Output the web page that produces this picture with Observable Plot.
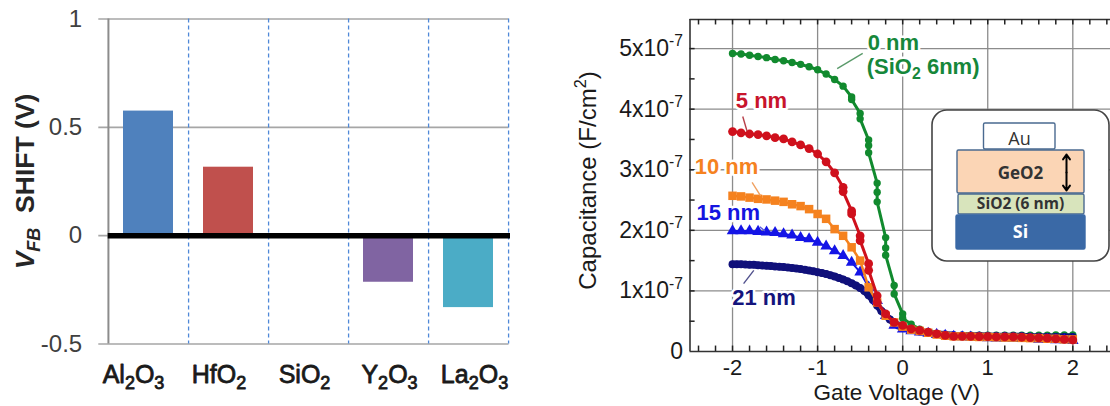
<!DOCTYPE html>
<html>
<head>
<meta charset="utf-8">
<script src="https://cdn.jsdelivr.net/npm/d3@7"></script>
<script src="https://cdn.jsdelivr.net/npm/@observablehq/plot@0.6"></script>
<style>
html,body{margin:0;padding:0;background:#fff;overflow:hidden}
#wrap{position:relative;width:1110px;height:406px;overflow:hidden}
#wrap svg{position:absolute;background:transparent;overflow:visible}
</style>
</head>
<body>
<div id="wrap"></div>
<script>
// ---- left chart data
const oxides = ["Al_{2}O_{3}", "HfO_{2}", "SiO_{2}", "Y_{2}O_{3}", "La_{2}O_{3}"];
const vfbShift = [0.575, 0.316, 0, -0.215, -0.332];
const barColors = ["#4f81bd", "#c0504d", "#ffffff", "#8064a2", "#4bacc6"];
const oxideLabelShift = [-15, -9.5, -4, 1, 6];
const leftTicks = [-0.5, 0, 0.5, 1];

// ---- right chart data (capacitance in units of 1e-7 F/cm2)
const volts = [-2,-1.9,-1.8,-1.7,-1.6,-1.5,-1.4,-1.3,-1.2,-1.1,-1,-0.9,-0.8,-0.7,-0.6,-0.5,-0.4,-0.3,-0.2,-0.1,0,0.1,0.2,0.3,0.4,0.5,0.6,0.7,0.8,0.9,1,1.1,1.2,1.3,1.4,1.5,1.6,1.7,1.8,1.9,2];
const greenV = [-2,-1.9,-1.8,-1.7,-1.6,-1.5,-1.4,-1.3,-1.2,-1.1,-1,-0.9,-0.8,-0.7,-0.6,-0.6,-0.5,-0.5,-0.4,-0.4,-0.4,-0.3,-0.3,-0.3,-0.2,-0.2,-0.2,-0.1,-0.1,0,0,0.1,0.2,0.3,0.4,0.5,0.6,0.7,0.8,0.9,1,1.1,1.2,1.3,1.4,1.5,1.6,1.7,1.8,1.9,2];
const greenC = [4.92,4.91,4.89,4.87,4.85,4.82,4.80,4.77,4.74,4.70,4.65,4.58,4.49,4.38,4.20,4.16,3.93,3.84,3.49,3.40,3.28,2.78,2.63,2.47,1.88,1.71,1.59,1.09,0.95,0.62,0.55,0.45,0.37,0.32,0.29,0.28,0.27,0.27,0.27,0.27,0.27,0.27,0.27,0.27,0.27,0.27,0.27,0.27,0.275,0.275,0.275];
const redV = [-2,-1.9,-1.8,-1.7,-1.6,-1.5,-1.4,-1.3,-1.2,-1.1,-1,-0.9,-0.8,-0.7,-0.7,-0.6,-0.6,-0.5,-0.5,-0.4,-0.4,-0.3,-0.3,-0.2,-0.1,0,0.1,0.2,0.3,0.4,0.5,0.6,0.7,0.8,0.9,1,1.1,1.2,1.3,1.4,1.5,1.6,1.7,1.8,1.9,2];
const redC = [3.63,3.61,3.59,3.58,3.56,3.53,3.51,3.46,3.41,3.35,3.26,3.13,2.95,2.71,2.64,2.32,2.27,1.91,1.83,1.45,1.34,0.92,0.81,0.62,0.48,0.43,0.375,0.35,0.32,0.29,0.265,0.25,0.25,0.25,0.245,0.245,0.24,0.24,0.24,0.235,0.23,0.225,0.22,0.21,0.20,0.19];
const orangeC = [2.57,2.56,2.54,2.52,2.51,2.49,2.47,2.43,2.40,2.35,2.27,2.19,2.02,1.91,1.72,1.50,1.06,0.81,0.59,0.48,0.41,0.36,0.34,0.31,0.28,0.26,0.25,0.25,0.245,0.24,0.24,0.235,0.23,0.23,0.225,0.22,0.22,0.21,0.21,0.20,0.20];
const blueC = [1.99,1.99,1.99,1.98,1.97,1.96,1.94,1.92,1.88,1.86,1.80,1.74,1.66,1.58,1.47,1.31,1.06,0.84,0.59,0.43,0.37,0.34,0.32,0.30,0.28,0.265,0.25,0.24,0.235,0.23,0.225,0.22,0.22,0.215,0.21,0.21,0.20,0.20,0.19,0.19,0.18];
const navyV = [-2,-1.95,-1.9,-1.85,-1.8,-1.75,-1.7,-1.65,-1.6,-1.55,-1.5,-1.45,-1.4,-1.35,-1.3,-1.25,-1.2,-1.15,-1.1,-1.05,-1,-0.95,-0.9,-0.85,-0.8,-0.75,-0.7,-0.65,-0.6,-0.55,-0.5,-0.45,-0.4,-0.35,-0.3,-0.25,-0.2,-0.15,-0.1,-0.05,0,0.1,0.2,0.3,0.4,0.5,0.6,0.7,0.8,0.9,1,1.1,1.2,1.3,1.4,1.5,1.6,1.7,1.8,1.9,2];
const navyC = [1.44,1.44,1.44,1.435,1.43,1.43,1.425,1.42,1.415,1.41,1.405,1.40,1.395,1.385,1.38,1.37,1.36,1.35,1.335,1.325,1.31,1.295,1.28,1.26,1.24,1.215,1.19,1.16,1.125,1.09,1.05,1.0,0.93,0.85,0.76,0.67,0.59,0.53,0.47,0.43,0.39,0.36,0.33,0.31,0.29,0.28,0.27,0.265,0.26,0.26,0.255,0.25,0.25,0.25,0.25,0.245,0.245,0.24,0.24,0.24,0.24];
const xMajor = [-2,-1,0,1,2];
const xMinor = [-2.4,-2.2,-1.8,-1.6,-1.4,-1.2,-0.8,-0.6,-0.4,-0.2,0.2,0.4,0.6,0.8,1.2,1.4,1.6,1.8,2.2,2.4];
const yMajor = [1,2,3,4,5];
const yMinor = [0.5,1.5,2.5,3.5,4.5];
const curveLabels = [
  {t:"0 nm", v:-0.11, c:5.1, col:"#16873a"},
  {t:"(SiO_{2} 6nm)", v:0.24, c:4.70, col:"#16873a"},
  {t:"5 nm", v:-1.66, c:4.14, col:"#c8142c"},
  {t:"10 nm", v:-2.07, c:3.05, col:"#f5821f"},
  {t:"15 nm", v:-2.05, c:2.28, col:"#1515e0"},
  {t:"21 nm", v:-1.63, c:0.89, col:"#14147c"}
];
const leaders = [
  {v1:-0.77, c1:4.67, v2:-0.47, c2:4.92, col:"#5a9a6a"},
  {v1:-1.88, c1:3.88, v2:-1.83, c2:3.64, col:"#b8404a"},
  {v1:-1.77, c1:2.79, v2:-1.67, c2:2.57, col:"#f0a060"},
  {v1:-1.68, c1:2.06, v2:-1.62, c2:1.99, col:"#5a5ae0"},
  {v1:-1.75, c1:1.34, v2:-1.87, c2:1.12, col:"#50508c"}
];

// ---- inset diagram (diagram units: left to right, top to bottom)
const layers = [
  {x1:53.5,x2:125,y1:14,y2:40,fill:"#ffffff",stroke:"#4a6a90"},
  {x1:27,x2:154,y1:41,y2:84,fill:"#fbd5b5",stroke:"#4a6a90"},
  {x1:28,x2:154,y1:85,y2:105,fill:"#d8e4bc",stroke:"#4a6a90"},
  {x1:26,x2:155,y1:106,y2:140,fill:"#3a69a6",stroke:"#3a69a6"}
];
const layerLabels = [
  {t:"Au",x:89,y:30,col:"#333333",size:18,w:400},
  {t:"GeO2",x:90,y:64,col:"#333333",size:17,w:700},
  {t:"SiO2 (6 nm)",x:90,y:95,col:"#333333",size:15.5,w:700},
  {t:"Si",x:90,y:123,col:"#ffffff",size:18,w:700}
];

function rich(svg){
  const ns = "http://www.w3.org/2000/svg";
  const re = /([_^~=])\{([^}]*)\}/g;
  svg.querySelectorAll("text, tspan").forEach(el=>{
    if(el.children.length) return;
    const s = el.textContent;
    if(!/[_^~=]\{/.test(s)) return;
    el.textContent = "";
    el.style.whiteSpace = "pre";
    let i = 0, m, pending = 0;
    const fs = parseFloat(el.getAttribute("font-size")) || parseFloat(el.closest("[font-size]")?.getAttribute("font-size")) || 20;
    const add = (txt, o={})=>{
      const t = document.createElementNS(ns,"tspan");
      t.textContent = txt;
      let dy = (o.shift||0) + pending;
      if(dy) t.setAttribute("dy", dy);
      pending = -(o.shift||0);
      if(o.size) t.setAttribute("font-size", o.size);
      if(o.italic) t.setAttribute("font-style","italic");
      el.appendChild(t);
    };
    while((m = re.exec(s))){
      if(m.index>i) add(s.slice(i,m.index));
      const k = m[1];
      if(k==="_") add(m[2],{shift:fs*0.22,size:fs*0.72});
      if(k==="^") add(m[2],{shift:-fs*0.42,size:fs*0.68});
      if(k==="~") add(m[2],{italic:true});
      if(k==="=") add(m[2],{shift:fs*0.22,size:fs*0.68,italic:true});
      i = re.lastIndex;
    }
    if(i<s.length) add(s.slice(i));
  });
  return svg;
}
function place(svg,left,top){ svg.style.left = left+"px"; svg.style.top = top+"px"; document.getElementById("wrap").appendChild(rich(svg)); }

const F = "'Liberation Sans', Arial, sans-serif";

// ---- left chart
const bars = oxides.map((o,i)=>({o, v:vfbShift[i], col:barColors[i]}));
const step = 80.16;
place(Plot.plot({
  width:520, height:406, marginLeft:107.7, marginRight:11.5, marginTop:18.5, marginBottom:62.5,
  style:{fontFamily:F, background:"transparent", overflow:"visible"},
  x:{type:"band", domain:oxides, paddingInner:0.376, paddingOuter:0.188, axis:null},
  y:{domain:[-0.5,1], axis:null, label:null},
  marks:[
    Plot.ruleY(leftTicks,{stroke:"#a6a6a6",strokeWidth:1.6,insetLeft:-9.4}),
    Plot.ruleX(oxides,{x:d=>d,dx:step/2,stroke:"#4f88d8",strokeWidth:1.3,strokeDasharray:"4,3"}),
    Plot.barY(bars.filter(d=>d.v!==0),{x:"o",y:"v",fill:"col"}),
    Plot.ruleX(oxides.slice(0,1),{x:d=>d,dx:-step/2,stroke:"#8c8c8c",strokeWidth:2}),
    Plot.ruleY([0],{stroke:"#000",strokeWidth:5.5,insetRight:-1.5}),
    Plot.axisY({ticks:leftTicks,tickSize:0,tickPadding:26,fontSize:24,color:"#404040",tickFormat:d=>String(d),label:null}),
    ...oxides.map((o,i)=>Plot.text([o],{x:d=>d,y:()=>-0.5,dx:oxideLabelShift[i],dy:31,text:d=>d,fontSize:25,fill:"#1a1a1a",stroke:"#1a1a1a",strokeWidth:0.8})),
    Plot.text(["~{V}={FB}  SHIFT (V)"],{text:d=>d,frameAnchor:"left",textAnchor:"middle",dx:-82.7,rotate:-90,fontSize:26.5,fontWeight:700,fill:"#262626"})
  ]
}),0,0);

// ---- right chart
const mk = (V,C)=>V.map((v,i)=>({v,c:C[i]}));
const green = mk(greenV,greenC), red = mk(redV,redC), orange = mk(volts,orangeC), blue = mk(volts,blueC), navy = mk(navyV,navyC);
const curve = (rows,col,w,sym,r)=>[
  Plot.line(rows,{x:"v",y:"c",stroke:col,strokeWidth:w}),
  Plot.dot(rows,{x:"v",y:"c",fill:col,symbol:sym,r})
];
const topC = 5.48;
place(Plot.plot({
  width:550, height:406, marginLeft:129.5, marginRight:0, marginTop:19, marginBottom:55,
  style:{fontFamily:F, background:"transparent", overflow:"visible"},
  x:{domain:[-2.5,2.443], axis:null, label:null},
  y:{domain:[0,topC], axis:null, label:null},
  marks:[
    Plot.ruleY(yMajor,{stroke:"#8c8c8c",strokeWidth:1.3}),
    Plot.ruleX(xMajor,{stroke:"#8c8c8c",strokeWidth:1.3}),
    // frame
    Plot.ruleY([0,topC],{stroke:"#333",strokeWidth:1.6}),
    Plot.ruleX([-2.5],{stroke:"#333",strokeWidth:1.6}),
    // inward ticks
    Plot.ruleX(xMinor.concat(xMajor),{y1:0,y2:0.09,stroke:"#222",strokeWidth:1.5}),
    Plot.ruleX(xMinor.concat(xMajor),{y1:topC,y2:topC-0.09,stroke:"#222",strokeWidth:1.5}),
    Plot.ruleY(yMinor.concat(yMajor),{x1:-2.5,x2:-2.44,stroke:"#222",strokeWidth:1.5}),
    // curves
    ...curve(green,"#118a2e",3,"circle",3.7),
    ...curve(navy,"#10107a",7,"circle",4),
    ...curve(blue,"#1414e6",2,"triangle",4.3),
    ...curve(orange,"#f5821f",2.5,"square",4.8),
    ...curve(red,"#cf101c",3,"circle",4.4),
    // leaders and labels
    Plot.link(leaders,{x1:"v1",y1:"c1",x2:"v2",y2:"c2",stroke:"col",strokeWidth:1.4}),
    Plot.text(curveLabels,{x:"v",y:"c",text:"t",fill:"col",fontSize:22,fontWeight:700,stroke:"#fff",strokeWidth:5,paintOrder:"stroke"}),
    // axes
    Plot.axisY({ticks:[0,...yMajor],tickSize:0,tickPadding:7,fontSize:23,color:"#1a1a1a",tickFormat:d=>d===0?"0":d+"x10^{-7}",label:null}),
    Plot.axisX({ticks:xMajor,tickSize:0,tickPadding:8,fontSize:22,color:"#1a1a1a",tickFormat:d=>d===0?"0":String(d).replace("−","-"),label:null}),
    Plot.text(["Capacitance (F/cm^{2})"],{text:d=>d,frameAnchor:"left",textAnchor:"middle",dx:-101.5,dy:-5,rotate:-90,fontSize:24,fill:"#1a1a1a"}),
    Plot.text(["Gate Voltage (V)"],{text:d=>d,x:()=>-0.07,y:()=>0,dy:41,fontSize:22.5,fill:"#1a1a1a"})
  ]
}),560,0);

// ---- inset diagram
place(Plot.plot({
  width:180, height:156, margin:0,
  style:{fontFamily:"'Open Sans', 'Liberation Sans', sans-serif", background:"transparent", overflow:"visible"},
  x:{domain:[0,180], axis:null, label:null},
  y:{domain:[156,0], axis:null, label:null},
  marks:[
    Plot.rect([{x1:2,x2:179,y1:1,y2:152}],{x1:"x1",x2:"x2",y1:"y1",y2:"y2",fill:"#fff",stroke:"#444",strokeWidth:1.6,rx:15}),
    Plot.rect(layers,{x1:"x1",x2:"x2",y1:"y1",y2:"y2",fill:"fill",stroke:"stroke",strokeWidth:1.4,rx:1.5}),
    Plot.arrow([{x:136,y1:63,y2:45},{x:136,y1:63,y2:81}],{x1:"x",x2:"x",y1:"y1",y2:"y2",stroke:"#000",strokeWidth:2,headLength:9,headAngle:70}),
    ...layerLabels.map(d=>Plot.text([d],{x:"x",y:"y",text:"t",fill:d.col,fontSize:d.size,fontWeight:d.w}))
  ]
}),930,109);
</script>
</body>
</html>
